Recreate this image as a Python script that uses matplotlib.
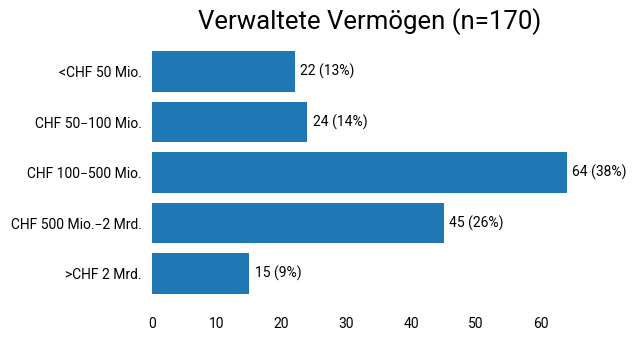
import matplotlib.pyplot as plt

plt.rcParams['font.family'] = ['Roboto', 'DejaVu Sans']

categories = ['<CHF 50 Mio.', 'CHF 50\u2212100 Mio.', 'CHF 100\u2212500 Mio.',
              'CHF 500 Mio.\u22122 Mrd.', '>CHF 2 Mrd.']
counts = [22, 24, 64, 45, 15]
total = 170


def main():
    fig, ax = plt.subplots(figsize=(6.38, 3.4), dpi=100)
    fig.subplots_adjust(left=0.238, right=0.921, bottom=0.1, top=0.885)

    pos = list(range(len(categories)))[::-1]
    bars = ax.barh(pos, counts, height=0.8, color='#1f77b4')
    labels = [f'{c} ({round(100 * c / total)}%)' for c in counts]
    ax.bar_label(bars, labels=labels, padding=4, fontsize=10)

    ax.set_yticks(pos)
    ax.set_yticklabels(categories, fontsize=10)
    ax.tick_params(axis='both', length=0, labelsize=10)
    ax.tick_params(axis='x', pad=8)
    ax.tick_params(axis='y', pad=7.5)
    for side in ax.spines.values():
        side.set_visible(False)

    ax.set_title('Verwaltete Vermögen (n=170)', fontsize=18.5, pad=7)
    fig.savefig('out.png')


if __name__ == '__main__':
    main()
